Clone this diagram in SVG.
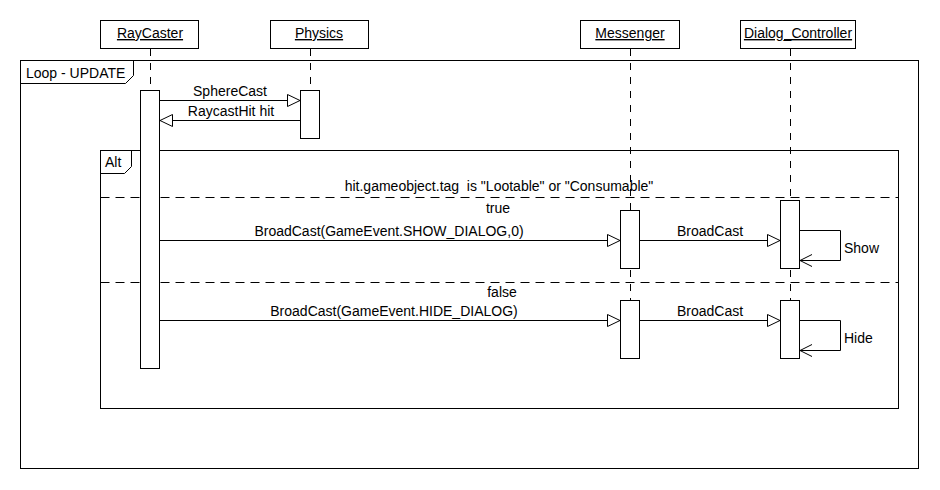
<svg xmlns="http://www.w3.org/2000/svg" width="940" height="490" viewBox="0 0 940 490">
<style>
text{font-family:"Liberation Sans",Arial,sans-serif;font-size:14px;fill:#000}
.c{text-anchor:middle}
.pre{white-space:pre}
.box{fill:#fff;stroke:#000;stroke-width:1}
.frame{fill:none;stroke:#000;stroke-width:1}
.life{stroke:#000;stroke-width:1;stroke-dasharray:7 7;fill:none}
.sep{stroke:#000;stroke-width:1;stroke-dasharray:9 6;fill:none}
.msg{stroke:#000;stroke-width:1;fill:none}
.u{text-decoration:underline}
</style>
<defs>
<marker id="tri" markerWidth="14" markerHeight="14" refX="13" refY="6.5" orient="auto" markerUnits="userSpaceOnUse">
<path d="M0.5,0.5 L13,6.5 L0.5,12.5 Z" fill="#fff" stroke="#000" stroke-width="1"/>
</marker>
<marker id="open" markerWidth="14" markerHeight="14" refX="13" refY="6.5" orient="auto" markerUnits="userSpaceOnUse">
<path d="M1,0.5 L13,6.5 L1,12.5" fill="none" stroke="#000" stroke-width="1"/>
</marker>
</defs>
<rect width="940" height="490" fill="#fff"/>

<g id="loop-frame">
<rect class="frame" x="20.5" y="60.5" width="898" height="408"/>
<path class="frame" d="M20.5,83.5 L125.5,83.5 L133.5,75.5 L133.5,60.5"/>
<text x="26" y="78">Loop - UPDATE</text>
</g>

<g id="alt-frame">
<rect class="frame" x="100.5" y="150.5" width="798" height="258"/>
<path class="frame" d="M100.5,173.5 L124.5,173.5 L131.5,166.5 L131.5,150.5"/>
<text x="105" y="167">Alt</text>
<line class="sep" x1="100.5" y1="197.5" x2="898.5" y2="197.5"/>
<line class="sep" x1="100.5" y1="282.5" x2="898.5" y2="282.5"/>
<text class="c pre" x="499" y="191">hit.gameobject.tag  is "Lootable" or "Consumable"</text>
<text class="c" x="498" y="212.5">true</text>
<text class="c" x="502" y="297">false</text>
</g>

<g id="RayCaster">
<rect class="box" x="100.5" y="20.5" width="98" height="28"/>
<text class="c u" x="150" y="38">RayCaster</text>
<line class="life" x1="150.5" y1="49" x2="150.5" y2="90"/>
<rect class="box" x="140.5" y="90.5" width="19" height="278"/>
</g>

<g id="Physics">
<rect class="box" x="270.5" y="20.5" width="98" height="28"/>
<text class="c u" x="319" y="38">Physics</text>
<line class="life" x1="310.5" y1="49" x2="310.5" y2="90"/>
<rect class="box" x="300.5" y="90.5" width="19" height="48"/>
</g>

<g id="Messenger">
<rect class="box" x="580.5" y="20.5" width="99" height="28"/>
<text class="c u" x="630" y="38">Messenger</text>
<line class="life" x1="630.5" y1="49" x2="630.5" y2="210"/>
<line class="life" x1="630.5" y1="270" x2="630.5" y2="300"/>
<rect class="box" x="620.5" y="210.5" width="19" height="58"/>
<rect class="box" x="620.5" y="300.5" width="19" height="58"/>
</g>

<g id="Dialog_Controller">
<rect class="box" x="740.5" y="20.5" width="115" height="28"/>
<text class="c u" x="798" y="38">Dialog_Controller</text>
<line class="life" x1="790.5" y1="49" x2="790.5" y2="200"/>
<line class="life" x1="790.5" y1="270" x2="790.5" y2="300"/>
<rect class="box" x="780.5" y="200.5" width="19" height="68"/>
<rect class="box" x="780.5" y="300.5" width="19" height="58"/>
</g>

<g id="connectors">
<line class="msg" x1="160" y1="100.5" x2="300" y2="100.5" marker-end="url(#tri)"/>
<text class="c" x="230" y="96">SphereCast</text>
<line class="msg" x1="300" y1="120.5" x2="160" y2="120.5" marker-end="url(#tri)"/>
<text class="c" x="231" y="116">RaycastHit hit</text>

<line class="msg" x1="160" y1="240.5" x2="620" y2="240.5" marker-end="url(#tri)"/>
<text class="c" x="389" y="236">BroadCast(GameEvent.SHOW_DIALOG,0)</text>
<line class="msg" x1="640" y1="240.5" x2="780" y2="240.5" marker-end="url(#tri)"/>
<text class="c" x="710" y="236">BroadCast</text>
<path class="msg" d="M800,230.5 L840.5,230.5 L840.5,260.5 L800,260.5" marker-end="url(#open)"/>
<text x="844" y="253">Show</text>

<line class="msg" x1="160" y1="320.5" x2="620" y2="320.5" marker-end="url(#tri)"/>
<text class="c" x="394" y="316">BroadCast(GameEvent.HIDE_DIALOG)</text>
<line class="msg" x1="640" y1="320.5" x2="780" y2="320.5" marker-end="url(#tri)"/>
<text class="c" x="710" y="316">BroadCast</text>
<path class="msg" d="M800,320.5 L840.5,320.5 L840.5,350.5 L800,350.5" marker-end="url(#open)"/>
<text x="844" y="343">Hide</text>
</g>
</svg>
